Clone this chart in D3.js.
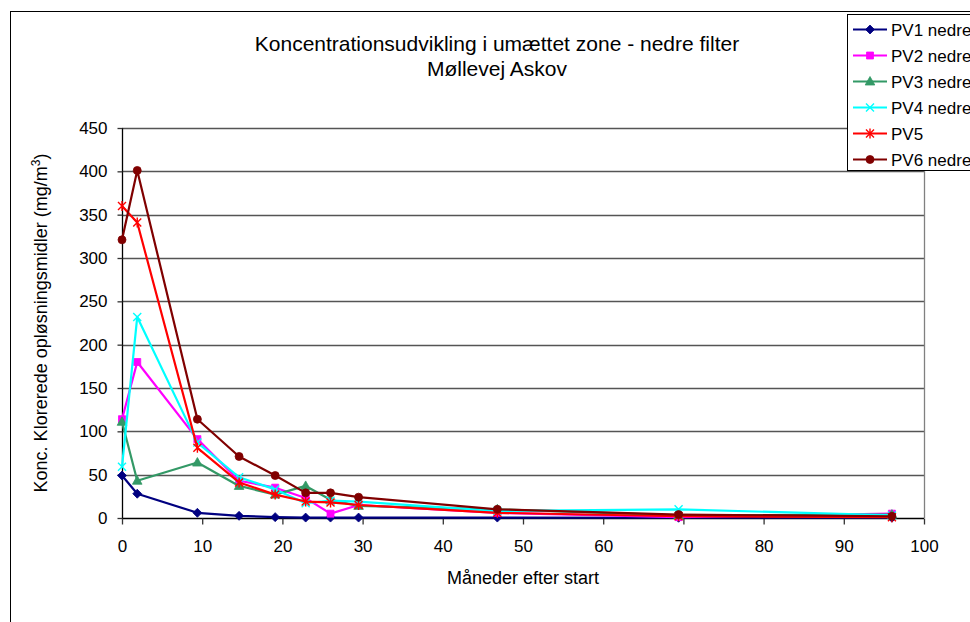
<!DOCTYPE html>
<html>
<head>
<meta charset="utf-8">
<script src="https://cdn.jsdelivr.net/npm/d3@7"></script>
<style>
  html, body { margin: 0; padding: 0; background: #fff; }
  svg { display: block; font-family: "Liberation Sans", Arial, sans-serif; }
</style>
</head>
<body>
<svg id="chart" width="970" height="622"></svg>
<script>
// Sampling times (months after start)
const months = [0, 1.9, 9.4, 14.6, 19.1, 22.9, 26.0, 29.5, 46.8, 69.4, 96.0];

// Chlorinated solvent concentrations (mg/m3) per well, lower filter
const seriesNames = ["PV1 nedre", "PV2 nedre", "PV3 nedre", "PV4 nedre", "PV5", "PV6 nedre"];
const pv1 = [49, 28, 6, 2.5, 1, 0.5, 0.5, 0.5, 0.5, 0.3, 0.3];
const pv2 = [114, 180, 91, 43, 35, 23, 5, 15, 6, 1, 5];
const pv3 = [111, 43, 64, 37, 27, 37, 21, 14, 10, 3, 4];
const pv4 = [59, 232, 87, 47, 33, 17, 20, 19, 8, 10, 3];
const pv5 = [360, 341, 81, 41, 27, 19, 18, 15, 6, 2, 1];
const pv6 = [321, 401, 114, 71, 49, 29, 29, 24, 10, 4, 2];
const seriesValues = [pv1, pv2, pv3, pv4, pv5, pv6];

const xTickValues = [0, 10, 20, 30, 40, 50, 60, 70, 80, 90, 100];
const yTickValues = [0, 50, 100, 150, 200, 250, 300, 350, 400, 450];

const titleLines = ["Koncentrationsudvikling i umættet zone - nedre filter", "Møllevej Askov"];
const xTitle = "Måneder efter start";

const colors = ["#000080", "#ff00ff", "#339966", "#00ffff", "#ff0000", "#800000"];
const markers = ["diamond", "square", "triangle", "x", "star", "circle"];

const svg = d3.select("#chart");

// Outer chart frame
svg.append("rect")
  .attr("x", 10.5).attr("y", 11.5)
  .attr("width", 1000).attr("height", 700)
  .attr("fill", "#fff").attr("stroke", "#000").attr("stroke-width", 1);

const x = d3.scaleLinear().domain([0, 100]).range([122, 924]);
const y = d3.scaleLinear().domain([0, 450]).range([518, 128]);

// Horizontal gridlines
svg.append("g")
  .selectAll("line")
  .data(yTickValues.filter(v => v > 0))
  .join("line")
  .attr("x1", x(0)).attr("x2", x(100))
  .attr("y1", d => Math.round(y(d)) + 0.5).attr("y2", d => Math.round(y(d)) + 0.5)
  .attr("stroke", "#555").attr("stroke-width", 1.3);

// Right edge of plot area
svg.append("line")
  .attr("x1", x(100) + 0.5).attr("x2", x(100) + 0.5)
  .attr("y1", y(450)).attr("y2", y(0))
  .attr("stroke", "#808080").attr("stroke-width", 1.3);

// Axes
const xAxis = d3.axisBottom(x).tickValues(xTickValues).tickSize(6).tickPadding(15);
const yAxis = d3.axisLeft(y).tickValues(yTickValues).tickSize(5).tickPadding(10);

const gx = svg.append("g").attr("transform", `translate(0,${Math.round(y(0)) + 0.5})`).call(xAxis);
const gy = svg.append("g").attr("transform", `translate(${Math.round(x(0)) + 0.5},0)`).call(yAxis);

[gx, gy].forEach(g => {
  g.select(".domain").attr("stroke", "#000").attr("stroke-width", 1.3);
  g.selectAll(".tick line").attr("stroke", "#333").attr("stroke-width", 1.3);
  g.selectAll(".tick text")
    .attr("fill", "#000")
    .style("font-family", "'Liberation Sans', Arial, sans-serif")
    .style("font-size", "17px");
});
gx.select(".domain").attr("d", `M${x(0)},0H${x(100)}`);
gy.select(".domain").attr("d", `M0,${y(0)}V${y(450)}`);

// Marker shapes
function markerPath(type) {
  switch (type) {
    case "diamond": return "M0,-4.5L4.5,0L0,4.5L-4.5,0Z";
    case "square": return "M-3.5,-3.5H3.5V3.5H-3.5Z";
    case "triangle": return "M0,-5L4.8,3.5H-4.8Z";
    case "circle": return "M4,0A4,4 0 1,1 -4,0A4,4 0 1,1 4,0Z";
    case "x": return "M-4,-4L4,4M-4,4L4,-4";
    case "star": return "M-4,-4L4,4M-4,4L4,-4M0,-5V5";
  }
}
function drawMarker(sel, type, color) {
  const stroked = type === "x" || type === "star";
  sel.append("path")
    .attr("d", markerPath(type))
    .attr("fill", stroked ? "none" : color)
    .attr("stroke", color)
    .attr("stroke-width", stroked ? 1.4 : 0.8);
}

const line = d3.line().x(d => x(d[0])).y(d => y(d[1]));

seriesValues.forEach((vals, i) => {
  const pts = months.map((m, j) => [m, vals[j]]);
  const g = svg.append("g");
  g.append("path")
    .attr("d", line(pts))
    .attr("fill", "none")
    .attr("stroke", colors[i])
    .attr("stroke-width", 2.2)
    .attr("stroke-linejoin", "round");
  pts.forEach(p => {
    const mg = g.append("g").attr("transform", `translate(${x(p[0])},${y(p[1])})`);
    drawMarker(mg, markers[i], colors[i]);
  });
});

// Title
svg.append("g").selectAll("text")
  .data(titleLines)
  .join("text")
  .attr("x", 497)
  .attr("y", (d, i) => 51 + i * 25)
  .attr("text-anchor", "middle")
  .style("font-size", "21px")
  .text(d => d);

// Axis titles
svg.append("text")
  .attr("x", (x(0) + x(100)) / 2)
  .attr("y", 584)
  .attr("text-anchor", "middle")
  .style("font-size", "18px")
  .text(xTitle);

const yt = svg.append("text")
  .attr("transform", `translate(47,${(y(0) + y(450)) / 2}) rotate(-90)`)
  .attr("text-anchor", "middle")
  .style("font-size", "18px");
yt.append("tspan").text("Konc. Klorerede opløsningsmidler (mg/m");
yt.append("tspan").attr("dy", -7).style("font-size", "12px").text("3");
yt.append("tspan").attr("dy", 7).text(")");

// Legend
const legend = svg.append("g");
legend.append("rect")
  .attr("x", 847.5).attr("y", 14.5)
  .attr("width", 200).attr("height", 156)
  .attr("fill", "#fff").attr("stroke", "#000").attr("stroke-width", 1);

seriesNames.forEach((name, i) => {
  const cy = 29.5 + i * 26;
  const row = legend.append("g");
  row.append("line")
    .attr("x1", 853).attr("x2", 887)
    .attr("y1", cy).attr("y2", cy)
    .attr("stroke", colors[i]).attr("stroke-width", 2.2);
  const mg = row.append("g").attr("transform", `translate(870,${cy})`);
  drawMarker(mg, markers[i], colors[i]);
  row.append("text")
    .attr("x", 891).attr("y", cy)
    .attr("dy", "0.36em")
    .style("font-size", "17px")
    .text(name);
});
</script>
</body>
</html>
